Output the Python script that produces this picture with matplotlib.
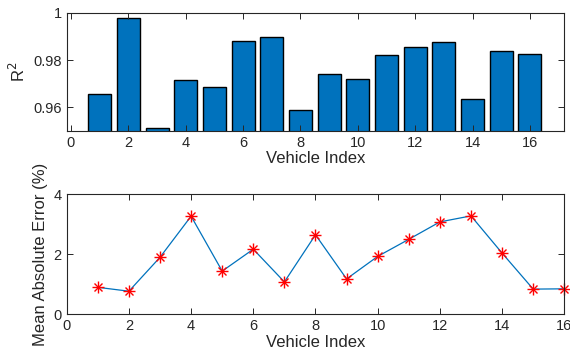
import matplotlib.pyplot as plt
import numpy as np

plt.rcParams['font.family'] = ['Liberation Sans', 'DejaVu Sans']

vehicles = np.arange(1, 17)
r2 = [0.9655, 0.9976, 0.9512, 0.9717, 0.9688, 0.9882, 0.9898, 0.9590,
      0.9743, 0.9719, 0.9823, 0.9854, 0.9877, 0.9634, 0.9838, 0.9827]
mae = [0.90, 0.77, 1.90, 3.27, 1.44, 2.17, 1.08, 2.65,
       1.18, 1.93, 2.50, 3.08, 3.28, 2.04, 0.84, 0.85]

blue = '#0072BD'
ink = '#262626'

fig = plt.figure(figsize=(5.7, 3.58), dpi=100)
ax1 = fig.add_axes([0.117, 0.634, 0.873, 0.3305])
ax2 = fig.add_axes([0.117, 0.122, 0.873, 0.3353])

ax1.bar(vehicles, r2, width=0.8, color=blue, edgecolor='black', linewidth=1.0)
ax1.set_xlim(-0.15, 17.2)
ax1.set_ylim(0.95, 1.0)
ax1.set_xticks(np.arange(0, 17, 2))
ax1.set_yticks([0.96, 0.98, 1.0])
ax1.set_yticklabels(['0.96', '0.98', '1'])
ax1.set_ylabel('R$^2$', fontsize=12, color=ink)
ax1.set_xlabel('Vehicle Index', fontsize=12, color=ink, labelpad=1)

# line plus an asterisk marker built from '+' and 'x'
ax2.plot(vehicles, mae, color=blue, linewidth=0.9)
ax2.plot(vehicles, mae, linestyle='none', marker='+', markersize=8.5,
         markeredgecolor='red', markeredgewidth=1.0, clip_on=False)
ax2.plot(vehicles, mae, linestyle='none', marker='x', markersize=6,
         markeredgecolor='red', markeredgewidth=1.0, clip_on=False)
ax2.set_xlim(0, 16)
ax2.set_ylim(0, 4)
ax2.set_xticks(np.arange(0, 17, 2))
ax2.set_yticks([0, 2, 4])
ax2.set_ylabel('Mean Absolute Error (%)', fontsize=12, color=ink)
ax2.set_xlabel('Vehicle Index', fontsize=12, color=ink, labelpad=1)

for ax in (ax1, ax2):
    ax.tick_params(direction='in', top=True, right=True, length=4,
                   width=0.7, labelsize=10.5, colors=ink)
    for s in ax.spines.values():
        s.set_color(ink)
        s.set_linewidth(0.8)

fig.savefig('out.png', dpi=100)
